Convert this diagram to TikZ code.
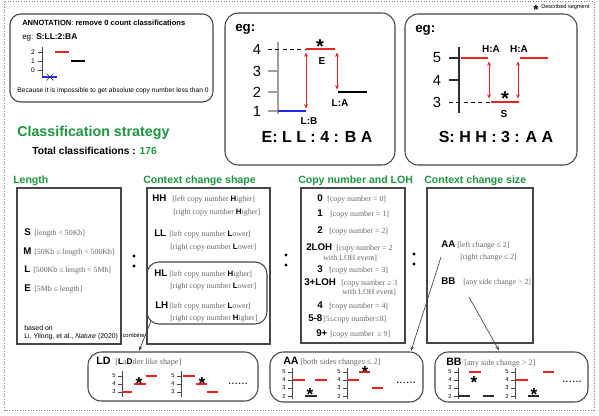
\documentclass[tikz,border=0pt]{standalone}
\usepackage{fontspec}
\setmainfont{Liberation Sans}
\newfontfamily\serifb{Liberation Serif}
\usetikzlibrary{fit,arrows.meta}
\definecolor{hdgreen}{RGB}{28,150,62}
\definecolor{segred}{RGB}{235,35,35}
\definecolor{segblue}{RGB}{35,40,230}
\definecolor{brgray}{RGB}{105,105,105}
\definecolor{boxgray}{RGB}{70,70,70}
\definecolor{darkseg}{RGB}{45,45,45}
\newcommand{\hk}[1]{{\normalfont\bfseries\color{black}#1}}
\newcommand{\fs}[1]{\fontsize{#1}{#1}\selectfont}
\tikzset{
 cd/.style={font=\fs{7.3}\bfseries, inner sep=0pt, anchor=base west},
 bk/.style={font=\fs{5.9}\serifb, text=brgray, inner sep=0pt, anchor=base west},
 bt/.style={font=\fs{8}\bfseries, inner sep=0pt, anchor=base west},
 bb/.style={font=\fs{6.2}\serifb, text=brgray, inner sep=0pt, anchor=base west},
 hd/.style={font=\fs{7.9}\bfseries, text=hdgreen, inner sep=0pt, anchor=base west},
 sbox/.style={draw=boxgray, line width=0.9pt, inner sep=0pt},
 rbox/.style={draw=boxgray, line width=0.8pt, inner sep=0pt, rounded corners=8pt},
 seg/.style={line width=2.2pt},
 mseg/.style={line width=1.1pt},
 ax/.style={line width=0.55pt, draw=boxgray},
 tk/.style={font=\fs{4.3}, inner sep=0pt},
 st/.style={font=\fontsize{#1}{#1}\selectfont\bfseries, inner sep=0pt, anchor=base},
 dar/.style={draw=segred, line width=0.5pt, {Stealth[length=3.2pt,width=2.8pt]}-{Stealth[length=3.2pt,width=2.8pt]}},
 par/.style={draw=boxgray, line width=0.5pt, -{Stealth[length=3.5pt,width=2.6pt]}},
 egl/.style={font=\fs{7.5}\bfseries, inner sep=0pt},
 big/.style={font=\fs{12}\bfseries, inner sep=0pt},
 num/.style={font=\fs{11}, inner sep=0pt},
 dots/.style={font=\fs{9}, inner sep=0pt, anchor=base},
 bul/.style={circle, fill=black, inner sep=0pt, minimum size=2.6pt},
}
\begin{document}
\begin{tikzpicture}[x=0.75pt,y=-0.75pt]
\useasboundingbox (0,0) rectangle (599,415);
\fill[white] (0,0) rectangle (599,415);
\draw[gray, line width=0.7pt, dash pattern=on 0.7pt off 1.3pt] (4.5,1.5) rectangle (594,410);

% described segment
\node[st=10] (dstar) at (536,14.5) {*};
\node[font=\fs{4.2}, inner sep=0pt, anchor=west] (dtxt) at (541,7) {Described segment};

% annotation box
\node[rbox, fit={(10,14) (213,102)}] (annbox) {};
\node[font=\fs{5.65}, inner sep=0pt, anchor=base west] (anntitle) at (22,25) {\textbf{ANNOTATION}: \textbf{remove 0 count classifications}};
\node[font=\fs{6}, inner sep=0pt, anchor=base west] (anneg) at (22,39) {eg:};
\node[font=\fs{6.3}\bfseries, inner sep=0pt, anchor=base west] (anncode) at (36,39) {S:LL:2:BA};
\draw[ax] (42,47) -- (42,78);
\draw[ax] (38,52) -- (43,52) (38,61) -- (43,61) (38,70) -- (43,70);
\node[font=\fs{5}, inner sep=0pt] (a2) at (33,52) {2};
\node[font=\fs{5}, inner sep=0pt] (a1) at (33,61) {1};
\node[font=\fs{5}, inner sep=0pt] (a0) at (33,70) {0};
\draw[segred, line width=1.3pt] (55,52) -- (69,52);
\draw[black, line width=1.3pt] (71,61) -- (85,61);
\draw[segblue, line width=1.3pt] (42,77) -- (57,77);
\draw[darkseg, line width=0.5pt] (46.5,73.5) -- (53.5,80.5) (46.5,80.5) -- (53.5,73.5);
\node[font=\fs{5}, inner sep=0pt] (annnote) at (113,91) {Because it is impossible to get absolute copy number less than 0};

% eg box 1
\node[rbox, rounded corners=10pt, fit={(225,13) (395,165)}] (eg1) {};
\node[font=\fs{10}\bfseries, inner sep=0pt, anchor=base west] (eg1t) at (235,31) {eg:};
\draw[gray!75, line width=1pt] (278,42) -- (278,114);
\draw[gray!75, line width=0.8pt] (268,71) -- (278,71) (268,92) -- (278,92) (268,111) -- (278,111);
\draw[black, line width=0.7pt, dash pattern=on 3pt off 2.5pt] (268,49) -- (306,49);
\node[num] (e4) at (257,49) {4};
\node[num] (e3) at (257,71) {3};
\node[num] (e2) at (257,92) {2};
\node[num] (e1) at (257,111) {1};
\draw[segred, seg] (306,49) -- (335,49);
\draw[segblue, seg] (278,111) -- (306,111);
\draw[black, seg] (338,92) -- (367,92);
\draw[dar] (306,52.5) -- (306,108.5);
\draw[dar] (337,52.5) -- (337,89.5);
\node[st=15] (e1star) at (320,53.5) {*};
\node[egl] (e1E) at (322,61) {E};
\node[egl] (e1LB) at (309,121) {L:B};
\node[egl] (e1LA) at (340,103) {L:A};
\node[big] (e1big) at (317,137) {E: L L : 4 : B A};

% eg box 2
\node[rbox, rounded corners=10pt, fit={(405,14) (577,165)}] (eg2) {};
\node[font=\fs{10}\bfseries, inner sep=0pt, anchor=base west] (eg2t) at (415,32) {eg:};
\draw[darkseg, line width=0.8pt] (459,47) -- (459,113);
\draw[darkseg, line width=0.8pt] (449,58) -- (459,58) (449,80) -- (459,80);
\draw[black, line width=0.7pt, dash pattern=on 3pt off 2.5pt] (449,102) -- (491,102);
\node[num] (f5) at (437,58) {5};
\node[num] (f4) at (437,80) {4};
\node[num] (f3) at (437,102) {3};
\draw[segred, seg] (461,58) -- (488,58);
\draw[segred, seg] (520,58) -- (548,58);
\draw[segred, seg] (491,102) -- (519,102);
\draw[dar] (489,61.5) -- (489,98.5);
\draw[dar] (518,61.5) -- (518,98.5);
\node[egl] (f2HA1) at (491,49) {H:A};
\node[egl] (f2HA2) at (519,49) {H:A};
\node[st=15] (e2star) at (505,105.5) {*};
\node[egl] (f2S) at (504,114) {S};
\node[big] (e2big) at (496,137) {S: H H : 3 : A A};

% titles
\node[font=\fs{10.7}\bfseries, text=hdgreen, inner sep=0pt, anchor=base west] (cstitle) at (17,136) {Classification strategy};
\node[font=\fs{7.7}\bfseries, inner sep=0pt, anchor=base west] (total) at (32,154.5) {Total classifications : {\color{hdgreen}176}};

\node[hd] (hlen) at (13,183) {Length};
\node[hd] (hccs) at (143,183) {Context change shape};
\node[hd] (hcn) at (298,183) {Copy number and LOH};
\node[hd] (hsize) at (424,183) {Context change size};

% Length box
\node[sbox, fit={(17,188) (121,344)}] (lenbox) {};
\node[cd] (lS) at (24,235) {S};
\node[bk] (lSb) at (34,235) {[length < 50Kb]};
\node[cd] (lM) at (23,254) {M};
\node[bk] (lMb) at (34,254) {[50Kb ≤ length < 500Kb]};
\node[cd] (lL) at (24,272) {L};
\node[bk] (lLb) at (33,272) {[500Kb ≤ length < 5Mb]};
\node[cd] (lE) at (24,291) {E};
\node[bk] (lEb) at (34,291) {[5Mb ≤ length]};
\node[font=\fs{5.2}, inner sep=0pt, anchor=base west] (ref1) at (24,330.5) {based on};
\node[font=\fs{5.2}, inner sep=0pt, anchor=base west] (ref2) at (24,338.5) {Li, Yilong, et al., \textit{Nature} (2020)};

% bullets
\node[bul] (b1) at (134,256) {};
\node[bul] (b2) at (134,266) {};
\node[bul] (b3) at (286,255) {};
\node[bul] (b4) at (286,265) {};
\node[bul] (b5) at (414,254) {};
\node[bul] (b6) at (414,264) {};

% CCS box
\node[sbox, fit={(147,188) (270,344)}] (ccsbox) {};
\node[rbox, rounded corners=9pt, fit={(147,262) (267,324)}] (hlbox) {};
\node[cd] (cHH) at (152,201) {HH};
\node[bk] (cHH1) at (172,201) {[left copy number \hk{H}igher]};
\node[bk] (cHH2) at (173,214) {[right copy number \hk{H}igher]};
\node[cd] (cLL) at (154,236) {LL};
\node[bk] (cLL1) at (169,236) {[left copy number \hk{L}ower]};
\node[bk] (cLL2) at (170,249) {[right copy number \hk{L}ower]};
\node[cd] (cHL) at (154,276) {HL};
\node[bk] (cHL1) at (169,276) {[left copy number \hk{H}igher]};
\node[bk] (cHL2) at (170,288) {[right copy number \hk{L}ower]};
\node[cd] (cLH) at (155,308) {LH};
\node[bk] (cLH1) at (169,308) {[left copy number \hk{L}ower]};
\node[bk] (cLH2) at (170,320) {[right copy number \hk{H}igher]};

% Copy number box
\node[sbox, fit={(301,188) (405,343)}] (cnbox) {};
\node[cd] (n0) at (317,201) {0};
\node[bk] (n0b) at (327,201) {[copy number = 0]};
\node[cd] (n1) at (317,216) {1};
\node[bk] (n1b) at (330,216) {[copy number = 1]};
\node[cd] (n2) at (317,233) {2};
\node[bk] (n2b) at (329,233) {[copy number = 2]};
\node[cd] (n2L) at (306,250) {2LOH};
\node[bk] (n2Lb) at (336,250) {[copy number = 2};
\node[bk] (n2Lc) at (323,260) {with LOH event]};
\node[cd] (n3) at (317,272) {3};
\node[bk] (n3b) at (329,272) {[copy number = 3]};
\node[cd] (n3L) at (304,285) {3+LOH};
\node[bk] (n3Lb) at (341,285) {[copy number ≥ 3};
\node[bk] (n3Lc) at (342,294) {with LOH event]};
\node[cd] (n4) at (317,308) {4};
\node[bk] (n4b) at (329,308) {[copy number = 4]};
\node[cd] (n58) at (308,321) {5-8};
\node[bk] (n58b) at (323,321) {[5≤copy number≤8]};
\node[cd] (n9) at (316,336) {9+};
\node[bk] (n9b) at (330,336) {[copy number \,≥ 9]};

% size box
\node[sbox, fit={(427,188) (533,343)}] (szbox) {};
\node[cd] (sAA) at (441,247) {AA};
\node[bk] (sAA1) at (457,247) {[left change ≤ 2]};
\node[bk] (sAA2) at (460,259) {[right change ≤ 2]};
\node[cd] (sBB) at (441,284) {BB};
\node[bk] (sBB1) at (463,284) {[any side change > 2]};

% bottom boxes
\node[rbox, rounded corners=10pt, fit={(88,352) (258,401)}] (ldbox) {};
\node[rbox, rounded corners=10pt, fit={(270,352) (423,402)}] (aabox) {};
\node[rbox, rounded corners=10pt, fit={(435,352) (588,402)}] (bbbox) {};
\node[bt] (ldt) at (96,364) {LD};
\node[bb] (ldtb) at (115,364) {[\hk{L}a\hk{D}der like shape]};
\node[bt] (aat) at (283,364) {AA};
\node[bb] (aatb) at (300,364) {[both sides changes ≤ 2]};
\node[bt] (bbt) at (446,365) {BB};
\node[bb] (bbtb) at (464,365) {[any side change > 2]};

% connectors
\coordinate (cmbS) at (151,321);
\coordinate (cmbE) at (139,351);
\draw[par] (cmbS) -- (cmbE);
\node[font=\fs{4.4}, inner sep=0pt, anchor=east] (cmbt) at (145,335) {combine};
\coordinate (aaS) at (441,257);
\coordinate (aaE) at (411,351);
\draw[par] (aaS) -- (aaE);
\coordinate (bbS) at (469,297);
\coordinate (bbE) at (499,350.5);
\draw[par] (bbS) -- (bbE);

% LD charts
\foreach \ax/\p in {122/la,181/lb}{
 \draw[ax] (\ax,371) -- (\ax,397);
 \foreach \lv/\yy in {5/376,4/384,3/392}{
  \draw[ax] (\ax-4,\yy) -- (\ax,\yy);
  \node[tk] (\p\lv) at (\ax-8,\yy) {\lv};
 }}
\draw[segred, mseg] (122,392) -- (132,392);
\draw[segred, mseg] (134,384) -- (146,384);
\draw[segred, mseg] (146,376) -- (157,376);
\node[st=13] (ldst1) at (139,389) {*};
\draw[segred, mseg] (183,376) -- (195,376);
\draw[segred, mseg] (196,384) -- (207,384);
\draw[segred, mseg] (207,392) -- (218,392);
\node[st=13] (ldst2) at (202,389) {*};
\node[dots] (ldd) at (238,384) {......};

% AA charts
\foreach \ax/\p in {292/aa,347/ab}{
 \draw[ax] (\ax,368) -- (\ax,399);
 \foreach \lv/\yy in {5/372,4/380,3/388,2/396}{
  \draw[ax] (\ax-4,\yy) -- (\ax,\yy);
  \node[tk] (\p\lv) at (\ax-8,\yy) {\lv};
 }}
\draw[segred, mseg] (293,380) -- (305,380);
\draw[segred, mseg] (315,380) -- (327,380);
\draw[darkseg, mseg] (305,396) -- (317,396);
\node[st=13] (aast1) at (310,400) {*};
\draw[segred, mseg] (347,380) -- (359,380);
\draw[segred, mseg] (359,372) -- (370,372);
\draw[segred, mseg] (372,388) -- (383,388);
\node[st=12] (aast2) at (365,377.5) {*};
\node[dots] (aad) at (406,383) {......};

% BB charts
\foreach \ax/\p in {458/ba,515/bc}{
 \draw[ax] (\ax,368) -- (\ax,399);
 \foreach \lv/\yy in {5/372,4/380,3/388,2/396}{
  \draw[ax] (\ax-4,\yy) -- (\ax,\yy);
  \node[tk] (\p\lv) at (\ax-8,\yy) {\lv};
 }}
\draw[segred, mseg] (469,372) -- (481,372);
\draw[darkseg, mseg] (458,396) -- (470,396);
\draw[darkseg, mseg] (483,396) -- (494,396);
\node[st=13] (bbst1) at (474,388) {*};
\draw[segred, mseg] (516,380) -- (528,380);
\draw[darkseg, mseg] (528,396) -- (539,396);
\draw[segred, mseg] (543,372) -- (554,372);
\node[st=13] (bbst2) at (534,400) {*};
\node[dots] (bbd) at (572,382) {......};
\end{tikzpicture}
\end{document}
